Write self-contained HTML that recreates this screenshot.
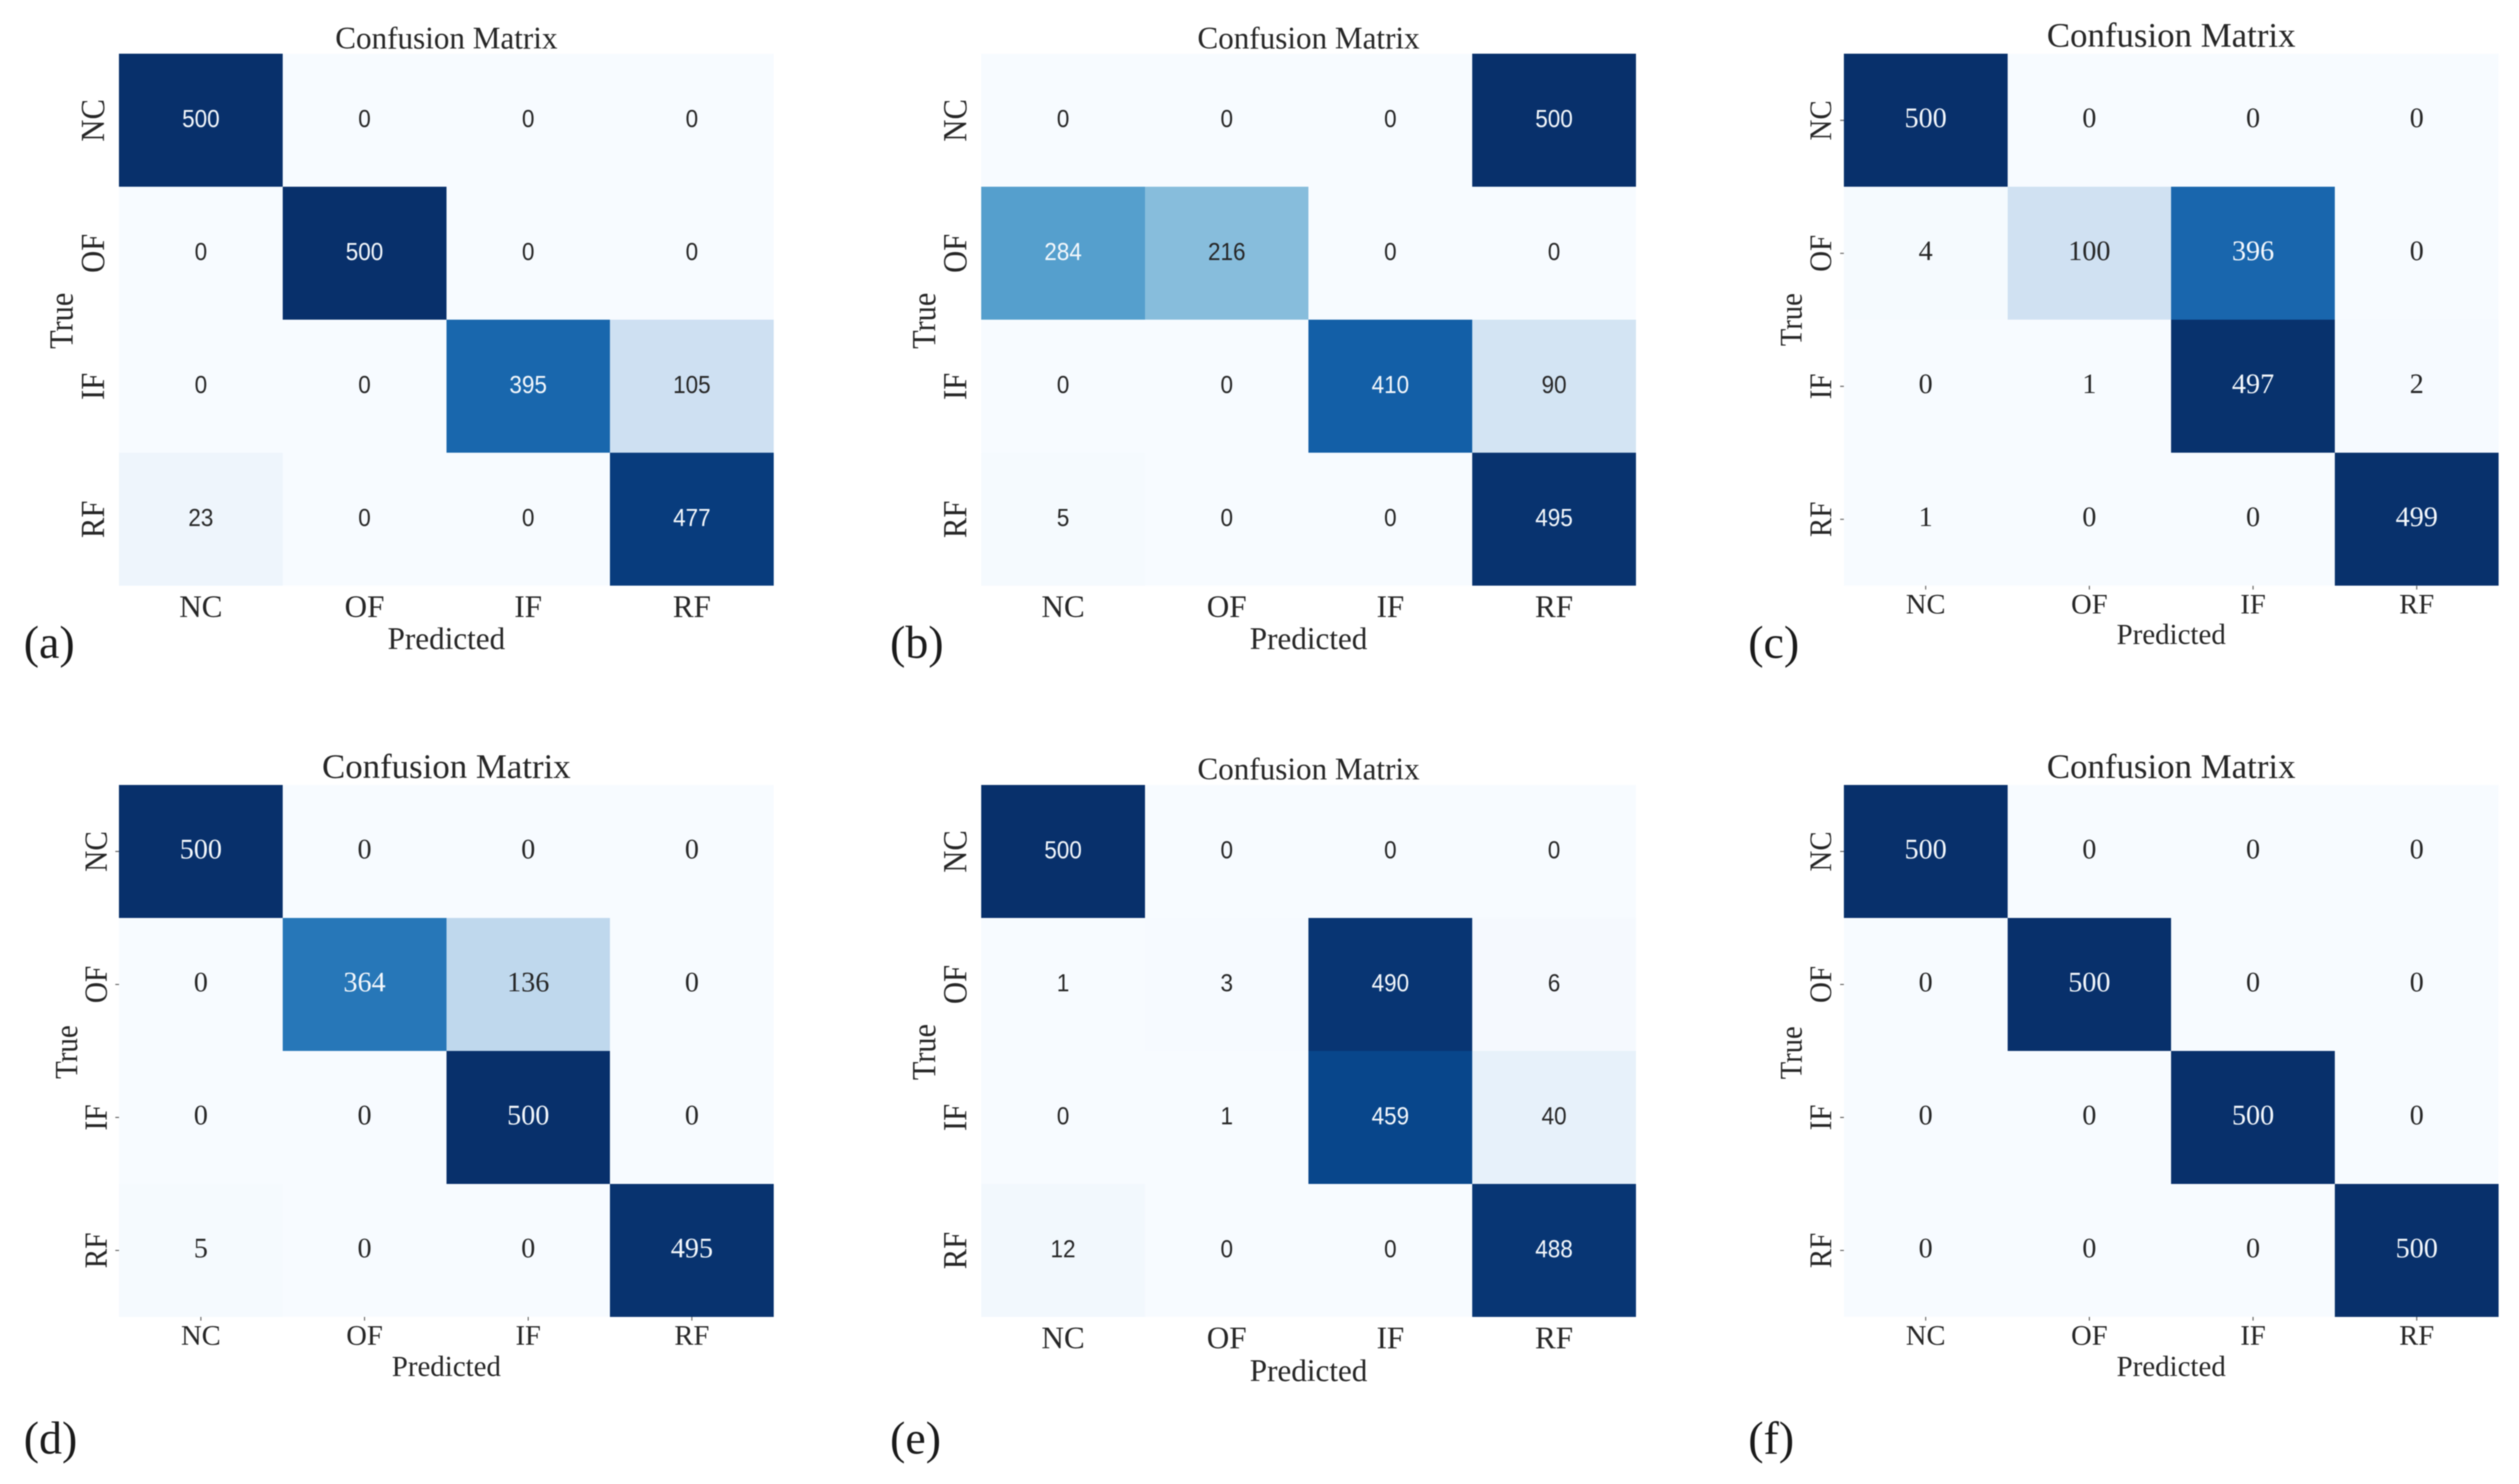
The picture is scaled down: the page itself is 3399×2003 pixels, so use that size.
<!DOCTYPE html>
<html lang="en">
<head>
<meta charset="utf-8">
<title>Confusion Matrices</title>
<style>
  html, body { margin: 0; padding: 0; background: #fff; }
  body { width: 3399px; height: 2003px; overflow: hidden; }
  svg { display: block; filter: blur(0.8px); }
  text { font-family: "Liberation Serif", serif; fill: #262626; }
</style>
</head>
<body>
<svg id="figure" xmlns="http://www.w3.org/2000/svg" width="3399" height="2003" viewBox="0 0 3399 2003"></svg>
<script>
const categories = ["NC", "OF", "IF", "RF"];
const chartTitle = "Confusion Matrix";
const xAxisTitle = "Predicted";
const yAxisTitle = "True";

const matrixA = [[500, 0, 0, 0], [0, 500, 0, 0], [0, 0, 395, 105], [23, 0, 0, 477]];
const matrixB = [[0, 0, 0, 500], [284, 216, 0, 0], [0, 0, 410, 90], [5, 0, 0, 495]];
const matrixC = [[500, 0, 0, 0], [4, 100, 396, 0], [0, 1, 497, 2], [1, 0, 0, 499]];
const matrixD = [[500, 0, 0, 0], [0, 364, 136, 0], [0, 0, 500, 0], [5, 0, 0, 495]];
const matrixE = [[500, 0, 0, 0], [1, 3, 490, 6], [0, 1, 459, 40], [12, 0, 0, 488]];
const matrixF = [[500, 0, 0, 0], [0, 500, 0, 0], [0, 0, 500, 0], [0, 0, 0, 500]];

const blues = ["#f7fbff", "#deebf7", "#c6dbef", "#9ecae1", "#6baed6", "#4292c6", "#2171b5", "#08519c", "#08306b"];
const svgNS = "http://www.w3.org/2000/svg";
const svg = document.getElementById("figure");

function hexToRgb(h) {
  return [parseInt(h.slice(1, 3), 16), parseInt(h.slice(3, 5), 16), parseInt(h.slice(5, 7), 16)];
}
function colorFor(t) {
  const p = Math.max(0, Math.min(1, t)) * (blues.length - 1);
  const i = Math.min(blues.length - 2, Math.floor(p));
  const a = hexToRgb(blues[i]), b = hexToRgb(blues[i + 1]), f = p - i;
  return "rgb(" + a.map((v, k) => Math.round(v + (b[k] - v) * f)).join(",") + ")";
}
function make(tag, attrs, parent) {
  const el = document.createElementNS(svgNS, tag);
  for (const k in attrs) el.setAttribute(k, attrs[k]);
  parent.appendChild(el);
  return el;
}

function drawPanel(matrix, letter, L) {
  const n = categories.length;
  const cellW = L.width / n, cellH = L.height / n;
  const xPos = j => L.left + j * cellW;
  const yPos = i => L.top + i * cellH;
  const maxVal = Math.max(...matrix.flat());
  const minVal = Math.min(...matrix.flat());
  const norm = v => (v - minVal) / (maxVal - minVal || 1);

  const g = make("g", {}, svg);
  
  

  const title = make("text", { x: L.left + L.width / 2, y: L.titleY, "text-anchor": "middle", "font-size": L.titleSize }, g);
  title.textContent = chartTitle;
  
  

  matrix.forEach((row, i) => {
    row.forEach((v, j) => {
      const cell = make("rect", { x: xPos(j), y: yPos(i), width: cellW, height: cellH, fill: colorFor(norm(v)), "shape-rendering": "crispEdges" }, g);
      
      
    });
  });

  matrix.forEach((row, i) => {
    row.forEach((v, j) => {
      const cx = xPos(j) + cellW / 2, by = yPos(i) + cellH / 2 + 9;
      const sx = L.annotSans ? 0.92 : 1;
      const label = make("text", {
        transform: "translate(" + cx + "," + by + ") scale(" + sx + ",1)",
        "text-anchor": "middle",
        "font-size": L.annotSize,
        style: (L.annotSans ? 'font-family:"Liberation Sans",sans-serif;' : '') + "fill:" + (norm(v) > 0.5 ? "#f4f8fc" : "#262626")
      }, g);
      label.textContent = String(v);
      
      
    });
  });

  categories.forEach((c, j) => {
    const cx = xPos(j) + cellW / 2;
    const t = make("text", { x: cx, y: L.xTickY, "text-anchor": "middle", "font-size": L.xTickSize }, g);
    t.textContent = c;
    
    
    if (L.ticks) {
      const tick = make("line", { x1: cx, x2: cx, y1: L.top + L.height, y2: L.top + L.height + 5, stroke: "#666", "stroke-width": 1.5 }, g);
      
      
    }
  });

  categories.forEach((c, i) => {
    const cy = yPos(i) + cellH / 2;
    const t = make("text", {
      transform: "translate(" + L.yTickX + "," + cy + ") rotate(-90) scale(0.92,1)",
      "text-anchor": "middle",
      "font-size": L.yTickSize
    }, g);
    t.textContent = c;
    
    
    if (L.ticks) {
      const tick = make("line", { x1: L.left - 5, x2: L.left, y1: cy, y2: cy, stroke: "#666", "stroke-width": 1.5 }, g);
      
      
    }
  });

  const xTitle = make("text", { x: L.left + L.width / 2, y: L.xTitleY, "text-anchor": "middle", "font-size": L.xTitleSize }, g);
  xTitle.textContent = xAxisTitle;
  
  

  const yTitle = make("text", {
    transform: "translate(" + L.yTitleX + "," + L.yTitleY + ") rotate(-90) scale(0.91,1)",
    "text-anchor": "middle",
    "font-size": L.yTickSize
  }, g);
  yTitle.textContent = yAxisTitle;
  
  

  const tag = make("text", { x: L.tagX, y: L.tagY, "font-size": 62, style: "fill:#1a1a1a" }, g);
  tag.textContent = "(" + letter + ")";
  
  
}

const size = { width: 883.4, height: 718 };
drawPanel(matrixA, "a", { ...size, left: 160.6, top: 72.7, titleY: 65.5, titleSize: 42, xTickY: 833, xTickSize: 42, xTitleY: 876, xTitleSize: 42, yTickX: 140.5, yTickSize: 45, yTitleX: 98, yTitleY: 433, tagX: 32, tagY: 888, annotSans: true, annotSize: 33, ticks: false });
drawPanel(matrixB, "b", { ...size, left: 1324, top: 72.7, titleY: 65.5, titleSize: 42, xTickY: 833, xTickSize: 42, xTitleY: 876, xTitleSize: 42, yTickX: 1304, yTickSize: 45, yTitleX: 1262, yTitleY: 433, tagX: 1201, tagY: 888, annotSans: true, annotSize: 33, ticks: false });
drawPanel(matrixC, "c", { ...size, left: 2488, top: 72.7, titleY: 63, titleSize: 47, xTickY: 828, xTickSize: 38.5, xTitleY: 869, xTitleSize: 39, yTickX: 2471, yTickSize: 42.5, yTitleX: 2431, yTitleY: 431.5, tagX: 2359, tagY: 888, annotSans: false, annotSize: 38, ticks: true });
drawPanel(matrixD, "d", { ...size, left: 160.6, top: 1059.5, titleY: 1050, titleSize: 47, xTickY: 1815, xTickSize: 38.5, xTitleY: 1857, xTitleSize: 39, yTickX: 144, yTickSize: 43, yTitleX: 104, yTitleY: 1420, tagX: 32, tagY: 1962, annotSans: false, annotSize: 38, ticks: true });
drawPanel(matrixE, "e", { ...size, left: 1324, top: 1059.5, titleY: 1052, titleSize: 42, xTickY: 1820, xTickSize: 42, xTitleY: 1864, xTitleSize: 42, yTickX: 1304, yTickSize: 45, yTitleX: 1262, yTitleY: 1420, tagX: 1201, tagY: 1962, annotSans: true, annotSize: 33, ticks: false });
drawPanel(matrixF, "f", { ...size, left: 2488, top: 1059.5, titleY: 1050, titleSize: 47, xTickY: 1815, xTickSize: 38.5, xTitleY: 1857, xTitleSize: 39, yTickX: 2471, yTickSize: 42.5, yTitleX: 2431, yTitleY: 1421, tagX: 2359, tagY: 1962, annotSans: false, annotSize: 38, ticks: true });
</script>
</body>
</html>
